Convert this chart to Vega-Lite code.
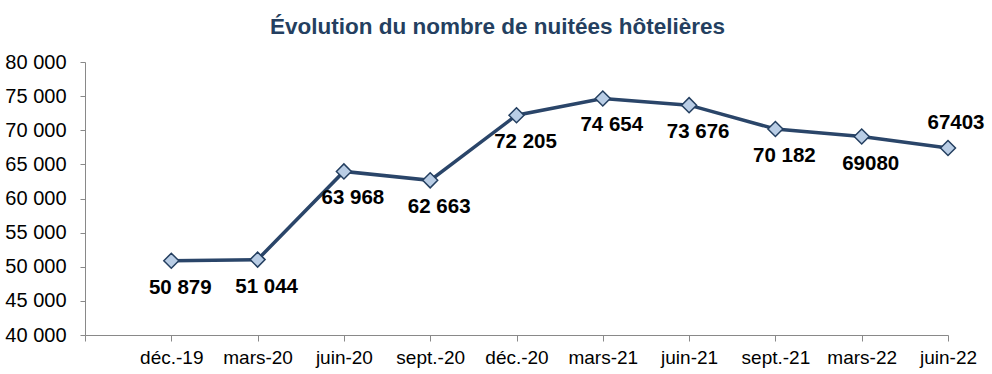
{
  "$schema": "https://vega.github.io/schema/vega-lite/v6.json",
  "width": 863,
  "height": 273,
  "autosize": {"type": "none"},
  "padding": {"left": 85, "top": 62, "right": 44, "bottom": 39},
  "background": "white",
  "config": {"view": {"stroke": null}, "font": "Liberation Sans"},
  "title": {
    "text": "Évolution du nombre de nuitées hôtelières",
    "font": "Liberation Sans",
    "fontSize": 22.5,
    "fontWeight": "bold",
    "color": "#243F60",
    "anchor": "middle",
    "dx": -19,
    "offset": 14
  },
  "data": {
    "values": [
      {"mois": "déc.-19", "valeur": 50879, "label": "50 879", "pos": "bas"},
      {"mois": "mars-20", "valeur": 51044, "label": "51 044", "pos": "bas"},
      {"mois": "juin-20", "valeur": 63968, "label": "63 968", "pos": "bas"},
      {"mois": "sept.-20", "valeur": 62663, "label": "62 663", "pos": "bas"},
      {"mois": "déc.-20", "valeur": 72205, "label": "72 205", "pos": "bas"},
      {"mois": "mars-21", "valeur": 74654, "label": "74 654", "pos": "bas"},
      {"mois": "juin-21", "valeur": 73676, "label": "73 676", "pos": "bas"},
      {"mois": "sept.-21", "valeur": 70182, "label": "70 182", "pos": "bas"},
      {"mois": "mars-22", "valeur": 69080, "label": "69080", "pos": "bas"},
      {"mois": "juin-22", "valeur": 67403, "label": "67403", "pos": "haut"}
    ]
  },
  "encoding": {
    "x": {
      "field": "mois",
      "type": "ordinal",
      "scale": {
        "type": "point",
        "padding": 0,
        "domain": [" ", "déc.-19", "mars-20", "juin-20", "sept.-20", "déc.-20", "mars-21", "juin-21", "sept.-21", "mars-22", "juin-22"]
      },
      "axis": {
        "title": null,
        "labelAngle": 0,
        "labelFont": "Liberation Sans",
        "labelFontSize": 19,
        "labelColor": "#000000",
        "labelPadding": 7,
        "domainColor": "#898989",
        "tickColor": "#898989",
        "tickSize": 6,
        "grid": false
      }
    },
    "y": {
      "field": "valeur",
      "type": "quantitative",
      "scale": {"domain": [40000, 80000], "nice": false, "zero": false},
      "axis": {
        "title": null,
        "values": [40000, 45000, 50000, 55000, 60000, 65000, 70000, 75000, 80000],
        "format": ",d",
        "labelExpr": "replace(datum.label, ',', ' ')",
        "labelFont": "Liberation Sans",
        "labelFontSize": 20,
        "labelColor": "#000000",
        "labelPadding": 14,
        "domainColor": "#898989",
        "tickColor": "#898989",
        "tickSize": 5,
        "grid": false
      }
    }
  },
  "layer": [
    {
      "mark": {"type": "line", "color": "#2A4569", "strokeWidth": 3.5}
    },
    {
      "mark": {"type": "point", "shape": "diamond", "size": 225, "filled": true, "fill": "#B9CDE5", "stroke": "#243F60", "strokeWidth": 1.5, "opacity": 1}
    },
    {
      "transform": [{"filter": "datum.pos === 'bas'"}],
      "mark": {"type": "text", "font": "Liberation Sans", "fontSize": 20.5, "fontWeight": "bold", "color": "#000000", "dx": 9, "dy": 27, "align": "center", "baseline": "middle"},
      "encoding": {"text": {"field": "label"}}
    },
    {
      "transform": [{"filter": "datum.pos === 'haut'"}],
      "mark": {"type": "text", "font": "Liberation Sans", "fontSize": 20.5, "fontWeight": "bold", "color": "#000000", "dx": 8, "dy": -25, "align": "center", "baseline": "middle"},
      "encoding": {"text": {"field": "label"}}
    }
  ]
}
